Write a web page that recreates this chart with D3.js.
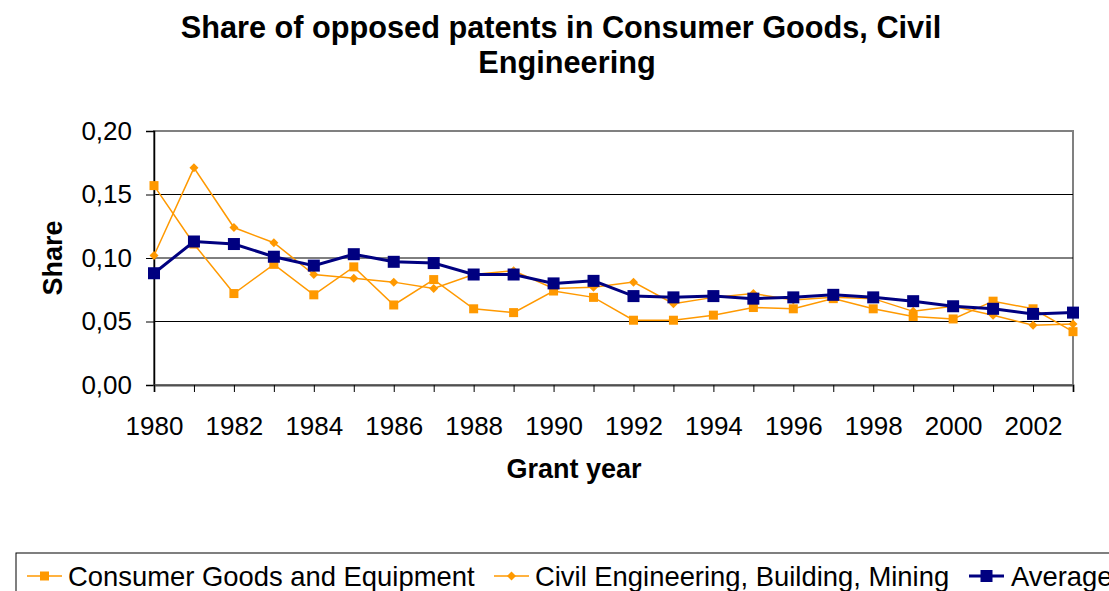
<!DOCTYPE html>
<html>
<head>
<meta charset="utf-8">
<script src="https://cdn.jsdelivr.net/npm/d3@7"></script>
<style>
  html, body { margin: 0; padding: 0; background: #fff; }
  svg { display: block; font-family: Arial, "Liberation Sans", sans-serif; }
</style>
</head>
<body>
<svg id="chart" width="1109" height="591"></svg>
<script>
const years = [1980,1981,1982,1983,1984,1985,1986,1987,1988,1989,1990,1991,1992,1993,1994,1995,1996,1997,1998,1999,2000,2001,2002,2003];
const consumer = [0.157,0.111,0.072,0.095,0.071,0.093,0.063,0.083,0.060,0.057,0.074,0.069,0.051,0.051,0.055,0.061,0.060,0.068,0.060,0.054,0.052,0.066,0.060,0.042];
const civil    = [0.102,0.171,0.124,0.112,0.087,0.084,0.081,0.076,0.087,0.090,0.076,0.077,0.081,0.064,0.069,0.072,0.067,0.069,0.068,0.058,0.062,0.055,0.047,0.048];
const average  = [0.088,0.113,0.111,0.101,0.094,0.103,0.097,0.096,0.087,0.087,0.080,0.082,0.070,0.069,0.070,0.068,0.069,0.071,0.069,0.066,0.062,0.060,0.056,0.057];
const yTicks = [0, 0.05, 0.10, 0.15, 0.20];
const xLabelYears = [1980,1982,1984,1986,1988,1990,1992,1994,1996,1998,2000,2002];
const seriesNames = ["Consumer Goods and Equipment", "Civil Engineering, Building, Mining", "Average"];
const titleLines = ["Share of opposed patents in Consumer Goods, Civil", "Engineering"];

(function () {
const svg = d3.select("#chart");
const pL = 154, pR = 1073, pT = 131, pB = 385;
const x = d3.scaleLinear().domain([1980, 2003]).range([pL, pR]);
const y = d3.scaleLinear().domain([0, 0.2]).range([pB, pT]);
const fmt = v => d3.format(".2f")(v).replace(".", ",");
const FF = "Arial, 'Liberation Sans', sans-serif";

// title
svg.append("text").attr("x", 561).attr("y", 38).attr("text-anchor", "middle")
  .attr("font-size", 30.7).attr("font-weight", "bold").text(titleLines[0]);
svg.append("text").attr("x", 567).attr("y", 73).attr("text-anchor", "middle")
  .attr("font-size", 30.7).attr("font-weight", "bold").text(titleLines[1]);

// plot area border
svg.append("rect").attr("x", pL).attr("y", pT).attr("width", pR - pL).attr("height", pB - pT)
  .attr("fill", "none").attr("stroke", "#808080").attr("stroke-width", 2);

// gridlines
svg.append("g").selectAll("line").data(yTicks.filter(d => d > 0 && d < 0.2)).join("line")
  .attr("x1", pL).attr("x2", pR).attr("y1", d => y(d)).attr("y2", d => y(d))
  .attr("stroke", "#000").attr("stroke-width", 1);

// y axis
const yAxis = d3.axisLeft(y).tickValues(yTicks).tickFormat(fmt).tickSize(8).tickPadding(14);
const gy = svg.append("g").attr("transform", `translate(${pL},0)`).call(yAxis);
gy.select(".domain").attr("stroke", "#000").attr("stroke-width", 1.5);
gy.selectAll(".tick line").attr("stroke", "#000");
gy.selectAll(".tick text").attr("font-size", 26).attr("font-family", FF).attr("fill", "#000");

// x axis
const xAxis = d3.axisBottom(x).tickValues(years).tickSize(7).tickFormat(d => xLabelYears.includes(d) ? d : "").tickPadding(25);
const gx = svg.append("g").attr("transform", `translate(0,${pB})`).call(xAxis);
gx.select(".domain").attr("stroke", "#505050").attr("stroke-width", 2);
gx.selectAll(".tick line").attr("stroke", "#000");
gx.selectAll(".tick text").attr("font-size", 26).attr("font-family", FF).attr("fill", "#000");

// axis titles
svg.append("text").attr("x", 574).attr("y", 478).attr("text-anchor", "middle")
  .attr("font-size", 27).attr("font-weight", "bold").text("Grant year");
svg.append("text").attr("transform", "translate(62,258) rotate(-90)").attr("text-anchor", "middle")
  .attr("font-size", 27).attr("font-weight", "bold").text("Share");

const orange = "#FF9900", navy = "#000080";
const line = d3.line().x((d, i) => x(years[i])).y(d => y(d));

function drawSeries(vals, color, width, marker, msize) {
  const g = svg.append("g");
  g.append("path").datum(vals).attr("d", line).attr("fill", "none").attr("stroke", color).attr("stroke-width", width);
  if (marker === "square") {
    g.selectAll("rect").data(vals).join("rect")
      .attr("x", (d, i) => x(years[i]) - msize / 2).attr("y", d => y(d) - msize / 2)
      .attr("width", msize).attr("height", msize).attr("fill", color);
  } else {
    g.selectAll("path.m").data(vals).join("path").attr("class", "m")
      .attr("d", (d, i) => { const cx = x(years[i]), cy = y(d), r = msize / 2;
        return `M${cx},${cy - r}L${cx + r},${cy}L${cx},${cy + r}L${cx - r},${cy}Z`; })
      .attr("fill", color);
  }
}
drawSeries(consumer, orange, 1.5, "square", 9);
drawSeries(civil, orange, 1.5, "diamond", 9);
drawSeries(average, navy, 3, "square", 12);

// legend
svg.append("rect").attr("x", 16).attr("y", 553).attr("width", 1120).attr("height", 60)
  .attr("fill", "#fff").attr("stroke", "#000").attr("stroke-width", 1);
const legendItems = [
  { name: seriesNames[0], color: orange, marker: "square", size: 9, width: 1.5, x0: 27, tx: 68 },
  { name: seriesNames[1], color: orange, marker: "diamond", size: 9, width: 1.5, x0: 494, tx: 535 },
  { name: seriesNames[2], color: navy, marker: "square", size: 12, width: 3, x0: 969, tx: 1011 }
];
const ly = 576;
legendItems.forEach(it => {
  svg.append("line").attr("x1", it.x0).attr("x2", it.x0 + 35).attr("y1", ly).attr("y2", ly)
    .attr("stroke", it.color).attr("stroke-width", it.width);
  const cx = it.x0 + 17.5, r = it.size / 2;
  if (it.marker === "square") {
    svg.append("rect").attr("x", cx - r).attr("y", ly - r).attr("width", it.size).attr("height", it.size).attr("fill", it.color);
  } else {
    svg.append("path").attr("d", `M${cx},${ly - r}L${cx + r},${ly}L${cx},${ly + r}L${cx - r},${ly}Z`).attr("fill", it.color);
  }
  svg.append("text").attr("x", it.tx).attr("y", 586).attr("font-size", 27.4).text(it.name);
});
})();
</script>
</body>
</html>
